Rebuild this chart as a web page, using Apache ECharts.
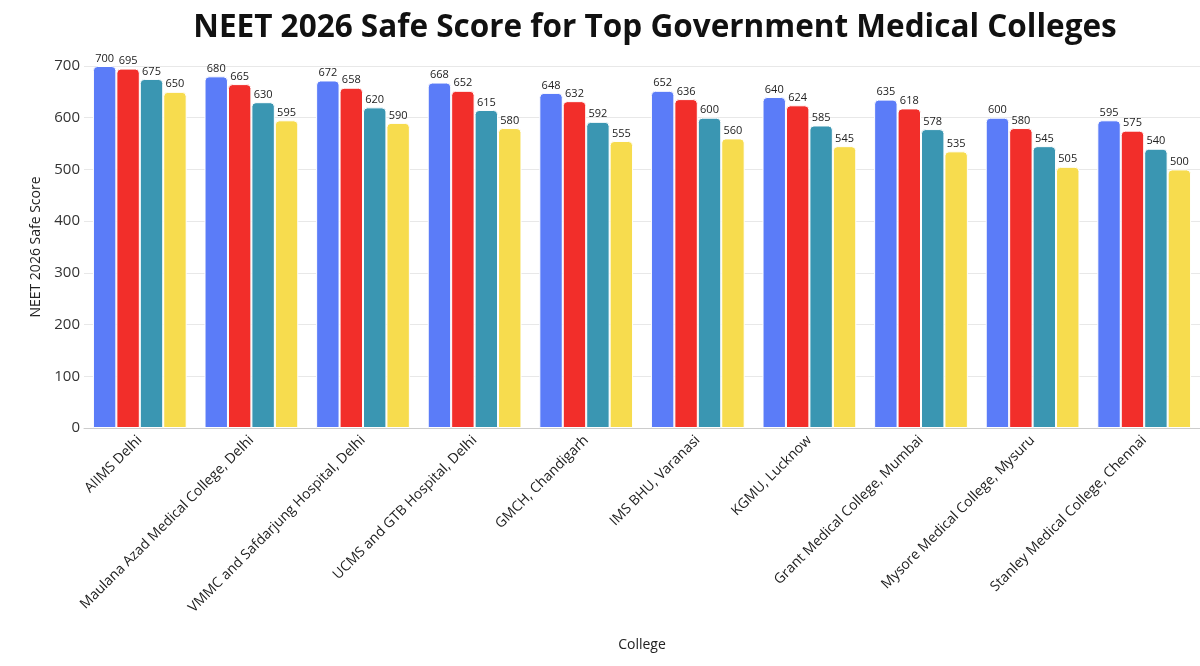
<!DOCTYPE html>
<html><head><meta charset="utf-8">
<script src="https://cdn.jsdelivr.net/npm/echarts@6/dist/echarts.min.js"></script>
<style>html,body{margin:0;padding:0;background:#fff}#c{width:1200px;height:666px}</style>
</head><body><div id="c"></div>
<script>
const colleges = ["AIIMS Delhi","Maulana Azad Medical College, Delhi","VMMC and Safdarjung Hospital, Delhi","UCMS and GTB Hospital, Delhi","GMCH, Chandigarh","IMS BHU, Varanasi","KGMU, Lucknow","Grant Medical College, Mumbai","Mysore Medical College, Mysuru","Stanley Medical College, Chennai"];
const seriesA = [700,680,672,668,648,652,640,635,600,595];
const seriesB = [695,665,658,652,632,636,624,618,580,575];
const seriesC = [675,630,620,615,592,600,585,578,545,540];
const seriesD = [650,595,590,580,555,560,545,535,505,500];
const yTicks = [0,100,200,300,400,500,600,700];
const colors = ["#5b7cf8","#f22e2a","#3a96b2","#f7dc4e"];
const FONT = "Open Sans";
const chart = echarts.init(document.getElementById('c'));
function mk(data, i){
  return {type:'bar', data:data, barGap:'0%', barCategoryGap:'16%',
    itemStyle:{color:colors[i], borderColor:'#fff', borderWidth:1, borderRadius:[4,4,0,0]},
    label:{show:true, position:'top', distance:2, fontSize:11, color:'#222', fontFamily:FONT}};
}
chart.setOption({
  animation:false,
  textStyle:{fontFamily:FONT},
  title:{text:'NEET 2026 Safe Score for Top Government Medical Colleges', left:650, top:7, textAlign:'center',
    textStyle:{fontSize:31.5, fontWeight:'bold', color:'#111', fontFamily:FONT}},
  grid:{left:84, right:-1, top:66, bottom:238, containLabel:false},
  xAxis:{type:'category', data:colleges, name:'College', nameLocation:'middle', nameGap:210,
    nameTextStyle:{fontSize:14, color:'#222'},
    axisLine:{lineStyle:{color:'#ccc'}}, axisTick:{show:false},
    axisLabel:{rotate:45, fontSize:14, color:'#222', margin:10, interval:0}},
  yAxis:{type:'value', min:0, max:700, interval:100, name:'NEET 2026 Safe Score', nameLocation:'middle', nameGap:40,
    nameTextStyle:{fontSize:14, color:'#222'},
    axisLabel:{fontSize:15, color:'#333', margin:4, customValues:yTicks},
    splitLine:{lineStyle:{color:'#e8e8e8'}}, axisLine:{show:false}, axisTick:{show:false}},
  series:[mk(seriesA,0), mk(seriesB,1), mk(seriesC,2), mk(seriesD,3)]
});
</script></body></html>
